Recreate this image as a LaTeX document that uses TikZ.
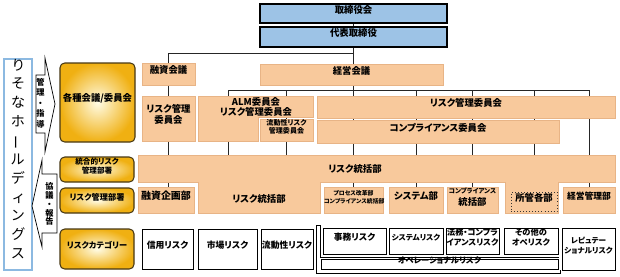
\documentclass[tikz,border=0pt]{standalone}
\usepackage{fontspec}
\setmainfont{Noto Sans CJK JP}[RawFeature=+palt]
\usepackage{graphicx}
\usepackage{tikz}
\usetikzlibrary{fit,shadows,backgrounds}

\definecolor{peach}{RGB}{248,201,156}
\definecolor{peachline}{RGB}{232,180,134}
\definecolor{boardblue}{RGB}{157,195,230}
\definecolor{gold}{RGB}{240,176,18}
\definecolor{goldlight}{RGB}{255,252,230}
\definecolor{goldline}{RGB}{70,55,20}
\definecolor{hdblue}{RGB}{140,185,225}

\newcommand{\fsz}[2]{\fontsize{#1}{#2}\selectfont}

\tikzset{
  peachfill/.style={draw=peachline,line width=0.3pt,fill=peach},
  boardbox/.style={draw=black,line width=1.4pt,fill=boardblue,inner sep=0pt,font=\bfseries\fsz{8}{10}},
  peachbox/.style={peachfill,inner sep=0pt,align=center,font=\bfseries\fsz{8}{10}},
  goldbox/.style={draw=goldline,line width=0.9pt,rounded corners=4pt,inner color=goldlight,outer color=gold,inner sep=0pt,align=center,font=\bfseries\fsz{7}{9}},
  riskbox/.style={draw=black,line width=0.5pt,fill=white,inner sep=0pt,align=center,font=\bfseries\fsz{7.5}{9},drop shadow={shadow xshift=0.9pt,shadow yshift=-0.9pt,fill=black,opacity=1}},
  link/.style={draw=black!85,line width=0.6pt},
  arrowbox/.style={draw=black,line width=0.6pt,fill=white},
  frame/.style={draw=black,line width=0.4pt}
}

\begin{document}
\begin{tikzpicture}[x=0.03cm,y=-0.03cm]
\useasboundingbox (0,0) rectangle (620,276);

% holdings and the two arrows
\node[draw=hdblue,line width=1pt,fill=white,inner sep=0pt,align=center,font=\fsz{12}{16.1},fit={(4,59) (32,270)}] (holdings) {り\\そ\\な\\ホ\\\rotatebox[origin=c]{90}{ー}\\ル\\デ\\ィ\\ン\\グ\\ス};
\filldraw[arrowbox] (36,75) -- (45,75) -- (45,58) -- (55,104) -- (45,152) -- (45,133) -- (36,133) -- cycle;
\node[align=center,font=\bfseries\fsz{7}{9}] (kanri) at (40.5,103) {管\\理\\・\\指\\導};
\filldraw[arrowbox] (57,174) -- (42,174) -- (42,160) -- (32,206) -- (42,247) -- (42,233) -- (57,233) -- cycle;
\node[align=center,font=\bfseries\fsz{7}{7.6}] (kyogi) at (49.5,204) {協\\議\\・\\報\\告};

% gold row headers
\node[goldbox,font=\bfseries\fsz{8}{10},fit={(60,63) (135,142)}] (kaigi) {各種会議/委員会};
\node[goldbox,font=\bfseries\fsz{6.5}{8},fit={(60,157) (134,182)}] (togo) {統合的リスク\\管理部署};
\node[goldbox,fit={(60,188) (134,213)}] (bussho) {リスク管理部署};
\node[goldbox,fit={(60,229) (134,269)}] (category) {リスクカテゴリー};

% board
\node[boardbox,fit={(260,4) (447,23)}] (board) {取締役会};
\node[boardbox,fit={(260,27) (447,47)}] (daihyo) {代表取締役};

% meetings and committees
\node[peachbox,fit={(142,63) (195,85)}] (yushi) {融資会議};
\node[peachbox,fit={(260,64) (443,85)}] (keiei) {経営会議};
\node[peachbox,fit={(142,96) (195,141)}] (riskL) {リスク管理\\委員会};
\filldraw[peachfill] (198,96) -- (313,96) -- (313,117) -- (258,117) -- (258,141) -- (198,141) -- cycle;
\coordinate (almleg) at (228,141);
\node[align=center,font=\bfseries\fsz{8}{9}] (alm) at (256,107) {ALM委員会\\リスク管理委員会};
\node[peachbox,font=\bfseries\fsz{6}{7},fit={(260,119) (313,141)}] (ryudo) {流動性リスク\\管理委員会};
\node[peachbox,fit={(317,96) (615,118)}] (riskR) {リスク管理委員会};
\node[peachbox,fit={(317,120) (559,143)}] (compliance) {コンプライアンス委員会};

% risk management departments
\filldraw[peachfill] (138,155) -- (615,155) -- (615,182) -- (558,182) -- (558,213) -- (505,213) -- (505,182) -- (320,182) -- (320,213) -- (198,213) -- (198,182) -- (138,182) -- cycle;
\coordinate (tkN) at (138,155);
\node[font=\bfseries\fsz{8}{10}] (tokatsu) at (355,169) {リスク統括部};
\node[font=\bfseries\fsz{8}{10}] (tokatsuL) at (259,199) {リスク統括部};
\node[peachbox,font=\bfseries\fsz{8.5}{10},fit={(138,187) (194,213)}] (yushikikaku) {融資企画部};
\node[peachbox,font=\bfseries\fsz{5}{6.5},fit={(324,187) (383,213)}] (process) {プロセス改革部\\コンプライアンス統括部};
\node[peachbox,fit={(389,187) (443,213)}] (system) {システム部};
\node[peachbox,fit={(447,187) (498,213)}] (complbu) {{\fsz{5.5}{7}コンプライアンス}\\統括部};
\node[draw=black!80,dotted,line width=0.6pt,inner sep=0pt,font=\bfseries\fsz{8}{10},fit={(511,192) (557,211)}] (shokan) {所管各部};
\node[peachbox,font=\bfseries\fsz{7.5}{10},fit={(563,187) (615,213)}] (keieikanri) {経営管理部};

% risk categories
\draw[frame] (320,225) -- (316,225) -- (316,273) -- (560,273) -- (560,270);
\draw[frame] (320,225) -- (320,257) -- (559,257);
\node[riskbox,fit={(142,229) (193,269)}] (shinyo) {信用リスク};
\node[riskbox,fit={(198,229) (257,269)}] (shijo) {市場リスク};
\node[riskbox,fit={(261,229) (313,269)}] (ryudorisk) {流動性リスク};
\node[riskbox,fit={(323,228) (386,254)}] (jimu) {事務リスク};
\node[riskbox,font=\bfseries\fsz{6.5}{8},fit={(389,228) (443,254)}] (systemrisk) {システムリスク};
\node[riskbox,font=\bfseries\fsz{7}{8.5},fit={(446,228) (499,254)}] (homu) {法務・コンプラ\\イアンスリスク};
\node[riskbox,font=\bfseries\fsz{7}{8.5},fit={(504,228) (558,254)}] (sonota) {その他の\\オペリスク};
\node[riskbox,font=\bfseries\fsz{6.5}{9},fit={(562,228) (615,270)}] (reputation) {レピュテー\\ショナルリスク};
\node[riskbox,font=\bfseries\fsz{7}{8},fit={(321,259) (558,269)}] (operational) {オペレーショナルリスク};

% connectors
\begin{pgfonlayer}{background}
  \draw[link] (board.south) -- (daihyo.north);
  \draw[link] (daihyo.south) -- (daihyo.south |- keiei.north);
  \path (daihyo.south) ++(0,6) coordinate (topbus);
  \draw[link] (topbus) -| (yushi.north);
  \draw[link] (yushi.south) -- (yushi.south |- yushikikaku.north);
  \path (keiei.south -| daihyo.south) ++(0,5) coordinate (bus);
  \draw[link] (keiei.south -| bus) -- (bus);
  \draw[link] (almleg |- bus) -- (keieikanri.north |- bus);
  \draw[link] (almleg |- bus) -- (almleg |- tkN);
  \draw[link] (ryudo.north |- bus) -- (ryudo.north |- tkN);
  \foreach \n in {process,system,complbu,shokan,keieikanri}
    \draw[link] (\n.north |- bus) -- (\n.north);
\end{pgfonlayer}
\end{tikzpicture}
\end{document}
